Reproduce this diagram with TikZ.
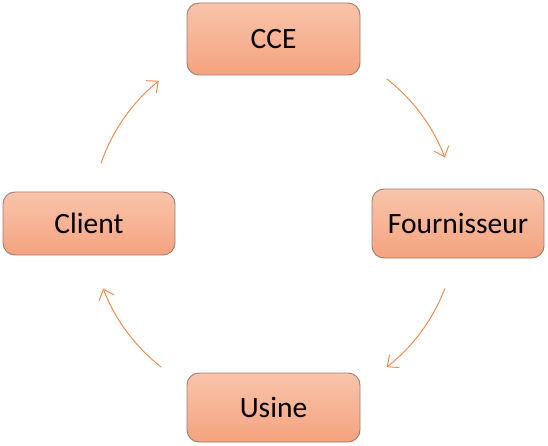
\documentclass[tikz,border=0pt]{standalone}
\usepackage{fontspec}
\setmainfont{Carlito}
\usetikzlibrary{arrows.meta}
\definecolor{boxtop}{HTML}{F9C4AB}
\definecolor{boxbot}{HTML}{F4A37F}
\definecolor{boxline}{HTML}{9A7E72}
\definecolor{arrcol}{HTML}{F08C4E}
\tikzset{
  stepbox/.style={draw=boxline, line width=0.9pt, rounded corners=12pt,
    top color=boxtop, bottom color=boxbot, font=\fontsize{29.5}{33}\selectfont,
    inner sep=0pt},
  arr/.style={draw=arrcol, line width=1pt, -{Straight Barb[length=9pt,width=16pt]}}
}
\begin{document}
\begin{tikzpicture}[x=1pt,y=-1pt]
\useasboundingbox (0,0) rectangle (548,446);
\node[stepbox, minimum width=173pt, minimum height=72pt] (cce) at (273.5,39) {CCE};
\node[stepbox, minimum width=172pt, minimum height=69pt] (four) at (458,223.5) {Fournisseur};
\node[stepbox, minimum width=173pt, minimum height=69pt] (usine) at (273.5,407.5) {Usine};
\node[stepbox, minimum width=172pt, minimum height=63pt] (client) at (89,223.5) {Client};
\coordinate (ctr) at (274,223);
\coordinate (a1) at ([shift={(308:183)}]ctr);
\coordinate (a2) at ([shift={(21:183)}]ctr);
\coordinate (a3) at ([shift={(128:183)}]ctr);
\coordinate (a4) at ([shift={(199:183)}]ctr);
\draw[arr] (a1) arc[start angle=308, end angle=339, radius=183];
\draw[arr] (a2) arc[start angle=21, end angle=52, radius=183];
\draw[arr] (a3) arc[start angle=128, end angle=159, radius=183];
\draw[arr] (a4) arc[start angle=199, end angle=231, radius=183];
\end{tikzpicture}
\end{document}
